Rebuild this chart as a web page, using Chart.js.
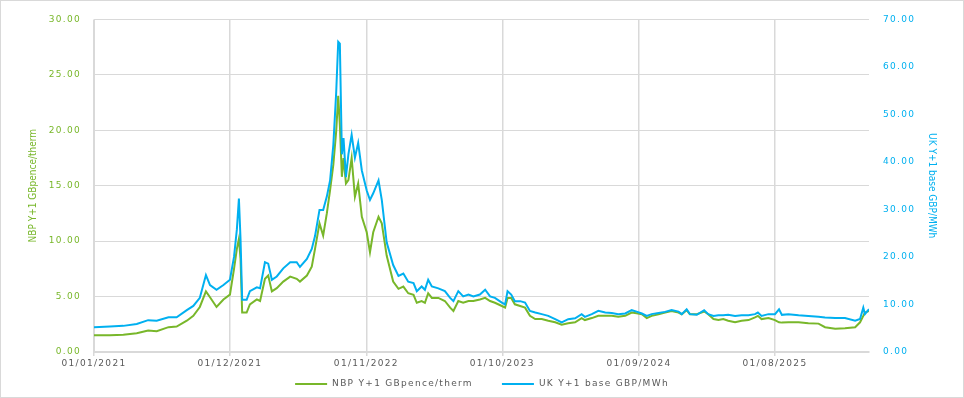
<!DOCTYPE html>
<html>
<head>
<meta charset="utf-8">
<title>NBP vs UK power Y+1</title>
<script src="https://cdn.jsdelivr.net/npm/chart.js@4.4.1/dist/chart.umd.min.js"></script>
<style>
  html, body { margin: 0; padding: 0; background: #fff; }
  #chart { display: block; }
</style>
</head>
<body>
<canvas id="chart" width="964" height="398"></canvas>
<script>
// values (approximate)
const dates = [
  '2021-01-01','2021-02-09','2021-03-14','2021-04-16','2021-05-14','2021-06-04','2021-07-03','2021-07-23',
  '2021-08-17','2021-09-02','2021-09-18','2021-10-03','2021-10-13','2021-10-29','2021-11-15','2021-12-01',
  '2021-12-11','2021-12-18','2021-12-23','2021-12-27','2021-12-31','2022-01-11','2022-01-19','2022-02-05',
  '2022-02-13','2022-02-25','2022-03-05','2022-03-14','2022-03-26','2022-04-11','2022-04-28','2022-05-14',
  '2022-05-22','2022-06-08','2022-06-20','2022-06-28','2022-07-09','2022-07-18','2022-07-27','2022-08-04',
  '2022-08-12','2022-08-19','2022-08-24','2022-08-28','2022-09-02','2022-09-06','2022-09-12','2022-09-18',
  '2022-09-26','2022-10-04','2022-10-12','2022-10-21','2022-11-02','2022-11-10','2022-11-18','2022-12-01',
  '2022-12-09','2022-12-21','2023-01-06','2023-01-19','2023-01-31','2023-02-12','2023-02-25','2023-03-05',
  '2023-03-17','2023-03-25','2023-04-02','2023-04-11','2023-04-27','2023-05-13','2023-05-26','2023-06-03',
  '2023-06-15','2023-06-27','2023-07-10','2023-07-22','2023-08-07','2023-08-20','2023-09-01','2023-09-13',
  '2023-09-30','2023-10-08','2023-10-14','2023-10-23','2023-11-01','2023-11-14','2023-11-26','2023-12-08',
  '2023-12-21','2024-01-06','2024-01-22','2024-02-08','2024-02-24','2024-03-11','2024-03-28','2024-04-13',
  '2024-04-21','2024-05-08','2024-05-24','2024-06-10','2024-06-26','2024-07-12','2024-07-29','2024-08-14',
  '2024-08-26','2024-09-08','2024-09-20','2024-10-02','2024-10-19','2024-11-04','2024-11-20','2024-12-07',
  '2024-12-15','2024-12-27','2025-01-04','2025-01-21','2025-02-08','2025-02-18','2025-03-03','2025-03-15',
  '2025-03-27','2025-04-08','2025-04-25','2025-05-11','2025-05-28','2025-06-13','2025-06-20','2025-06-29',
  '2025-07-16','2025-08-01','2025-08-11','2025-08-18','2025-09-03','2025-09-28','2025-10-22','2025-11-16',
  '2025-12-02','2025-12-27','2026-01-20','2026-02-14','2026-02-26','2026-03-06','2026-03-10','2026-03-20'
];

// NBP Y+1, GBpence/therm (left axis)
const nbp = [
  1.50, 1.50, 1.56, 1.70, 1.94, 1.88, 2.24, 2.30,
  2.82, 3.26, 4.06, 5.47, 4.94, 4.06, 4.74, 5.18,
  7.50, 9.30, 10.2, 8.40, 3.56, 3.56, 4.30, 4.74,
  4.60, 6.60, 6.90, 5.47, 5.76, 6.35, 6.80, 6.60,
  6.35, 6.90, 7.70, 9.30, 11.6, 10.5, 12.5, 14.6,
  16.9, 19.9, 23.1, 20.5, 15.8, 17.5, 15.2, 15.5,
  17.5, 14.0, 15.2, 12.2, 10.8, 9.00, 10.8, 12.2,
  11.6, 8.70, 6.35, 5.70, 5.90, 5.30, 5.15, 4.44,
  4.60, 4.44, 5.30, 4.88, 4.88, 4.60, 4.00, 3.70,
  4.60, 4.44, 4.60, 4.60, 4.74, 4.88, 4.60, 4.44,
  4.15, 4.00, 4.88, 4.88, 4.30, 4.15, 4.00, 3.26,
  2.97, 2.97, 2.82, 2.68, 2.47, 2.59, 2.68, 3.06,
  2.88, 3.06, 3.26, 3.26, 3.26, 3.18, 3.26, 3.56,
  3.50, 3.41, 3.06, 3.26, 3.41, 3.56, 3.70, 3.56,
  3.41, 3.77, 3.40, 3.40, 3.65, 3.41, 2.97, 2.88,
  2.97, 2.82, 2.68, 2.82, 2.88, 3.12, 3.26, 2.97,
  3.06, 2.88, 2.68, 2.65, 2.68, 2.68, 2.59, 2.56,
  2.24, 2.09, 2.15, 2.24, 2.68, 3.26, 3.56, 3.70
];

// UK Y+1 base, GBP/MWh (right axis)
const ukPower = [
  5.20, 5.35, 5.50, 5.90, 6.70, 6.60, 7.30, 7.30,
  8.80, 9.70, 11.4, 16.2, 14.1, 13.1, 14.1, 15.2,
  20.0, 25.8, 32.3, 23.7, 11.0, 11.0, 12.8, 13.6,
  13.4, 18.9, 18.6, 15.2, 15.9, 17.6, 18.9, 18.9,
  17.9, 19.6, 21.7, 24.4, 29.9, 29.9, 32.7, 36.1,
  43.6, 54.6, 65.3, 64.9, 41.6, 45.0, 36.8, 41.6,
  45.7, 40.9, 44.0, 38.2, 34.0, 32.0, 33.4, 36.1,
  32.0, 23.1, 18.3, 16.0, 16.5, 14.8, 14.5, 12.8,
  13.8, 13.1, 15.2, 13.8, 13.4, 12.8, 11.4, 10.7,
  12.8, 11.7, 12.1, 11.7, 12.1, 13.1, 11.7, 11.4,
  10.4, 10.0, 12.8, 12.1, 10.7, 10.7, 10.4, 8.65,
  8.30, 7.97, 7.60, 6.90, 6.24, 6.90, 7.10, 7.97,
  7.40, 7.97, 8.65, 8.30, 8.20, 7.97, 8.10, 8.80,
  8.50, 8.10, 7.60, 7.97, 8.20, 8.44, 8.85, 8.50,
  7.97, 9.00, 7.97, 7.82, 8.80, 7.97, 7.60, 7.75,
  7.75, 7.82, 7.60, 7.75, 7.75, 7.97, 8.30, 7.60,
  7.97, 7.97, 9.00, 7.82, 7.97, 7.75, 7.60, 7.40,
  7.27, 7.14, 7.14, 6.59, 6.94, 9.33, 7.97, 9.00
];

const xTickDates = ['2021-01-01','2021-12-01','2022-11-01','2023-10-01','2024-09-01','2025-08-01'];

const GREEN = '#78B72A';
const BLUE = '#00B0F0';
const GRID = '#D9D9D9';
const TEXT = '#595959';
const tickFont = { family: 'DejaVu Sans', size: 9 };
const titleFont = { family: "'Liberation Sans Narrow', 'DejaVu Sans Condensed', 'Liberation Sans', sans-serif", size: 10 };

function toDay(s) {
    var p = s.split('-');
    return (Date.UTC(+p[0], +p[1] - 1, +p[2]) - Date.UTC(2021, 0, 1)) / 86400000;
}

function dayLabel(v) {
    var d = new Date(Date.UTC(2021, 0, 1) + v * 86400000);
    return String(d.getUTCDate()).padStart(2, '0') + '/' +
        String(d.getUTCMonth() + 1).padStart(2, '0') + '/' + d.getUTCFullYear();
}

// titles drawn without spacing, tick labels + legend with a bit of spacing
const spacingPlugin = {
    id: 'spacing',
    beforeDraw: function(chart) { chart.ctx.letterSpacing = '0px'; },
    beforeDatasetsDraw: function(chart) { chart.ctx.letterSpacing = '1.3px'; }
};

const legendPlugin = {
    id: 'bottomLegend',
    afterDraw: function(chart) {
        var ctx = chart.ctx;
        var y = 384;
        ctx.save();
        ctx.font = '9px "DejaVu Sans"';
        var items = chart.data.datasets.map(function(ds) {
            return { ds: ds, w: ctx.measureText(ds.label).width };
        });
        var total = 0;
        items.forEach(function(it) { total += 32 + 5 + it.w; });
        total += 29 * (items.length - 1);
        var x = (chart.width - total) / 2;
        items.forEach(function(it) {
            ctx.strokeStyle = it.ds.borderColor;
            ctx.lineWidth = 2;
            ctx.beginPath();
            ctx.moveTo(x, y);
            ctx.lineTo(x + 32, y);
            ctx.stroke();
            ctx.fillStyle = TEXT;
            ctx.textBaseline = 'middle';
            ctx.fillText(it.ds.label, x + 37, y);
            x += 32 + 5 + it.w + 29;
        });
        ctx.restore();
    }
};

const framePlugin = {
    id: 'frame',
    afterDraw: function(chart) {
        var ctx = chart.ctx;
        ctx.save();
        ctx.strokeStyle = GRID;
        ctx.lineWidth = 1;
        ctx.strokeRect(0.5, 0.5, chart.width - 1, chart.height - 1);
        ctx.restore();
    }
};

const dataNbp = dates.map(function(d, i) { return { x: toDay(d), y: nbp[i] }; });
const dataUk = dates.map(function(d, i) { return { x: toDay(d), y: ukPower[i] }; });

const config = {
    type: 'line',
    data: {
        datasets: [{
            label: 'NBP Y+1 GBpence/therm',
            data: dataNbp,
            yAxisID: 'y',
            borderColor: GREEN,
            borderWidth: 2,
            pointRadius: 0,
            tension: 0,
            order: 2
        }, {
            label: 'UK Y+1 base GBP/MWh',
            data: dataUk,
            yAxisID: 'y1',
            borderColor: BLUE,
            borderWidth: 2,
            pointRadius: 0,
            tension: 0,
            order: 1
        }]
    },
    options: {
        responsive: false,
        animation: false,
        devicePixelRatio: 1,
        layout: { padding: { top: 12, left: 0, right: 0, bottom: 0 } },
        plugins: {
            legend: { display: false },
            tooltip: { enabled: false }
        },
        scales: {
            x: {
                type: 'linear',
                min: 0,
                max: toDay(dates[dates.length - 1]),
                afterBuildTicks: function(scale) {
                    scale.ticks = xTickDates.map(function(d) { return { value: toDay(d) }; });
                },
                afterFit: function(scale) { scale.height = 46; },
                grid: { color: GRID, lineWidth: 1.5, tickLength: 4 },
                border: { color: GRID, width: 2 },
                ticks: {
                    autoSkip: false,
                    maxRotation: 0,
                    padding: 2,
                    color: TEXT,
                    font: tickFont,
                    z: 1,
                    callback: function(v) { return dayLabel(v); }
                }
            },
            y: {
                position: 'left',
                min: 0,
                max: 30,
                afterFit: function(scale) { scale.width = 94; },
                grid: { color: GRID, drawTicks: false },
                border: { color: GRID },
                ticks: {
                    stepSize: 5,
                    padding: 13,
                    color: GREEN,
                    font: tickFont,
                    z: 1,
                    callback: function(v) { return v.toFixed(2); }
                },
                title: {
                    display: true,
                    text: 'NBP Y+1 GBpence/therm',
                    color: GREEN,
                    font: titleFont,
                    padding: { top: 27, bottom: 0 }
                }
            },
            y1: {
                position: 'right',
                min: 0,
                max: 70,
                afterFit: function(scale) { scale.width = 95; },
                grid: { drawOnChartArea: false, drawTicks: false },
                border: { display: false },
                ticks: {
                    stepSize: 10,
                    padding: 14,
                    color: BLUE,
                    font: tickFont,
                    z: 1,
                    callback: function(v) { return v.toFixed(2); }
                },
                title: {
                    display: true,
                    text: 'UK Y+1 base GBP/MWh',
                    color: BLUE,
                    font: titleFont,
                    padding: { top: 26, bottom: 0 }
                }
            }
        }
    },
    plugins: [spacingPlugin, legendPlugin, framePlugin]
};

document.addEventListener('DOMContentLoaded', function() {
    var ctx = document.getElementById('chart');
    new Chart(ctx, config);
});
</script>
</body>
</html>
